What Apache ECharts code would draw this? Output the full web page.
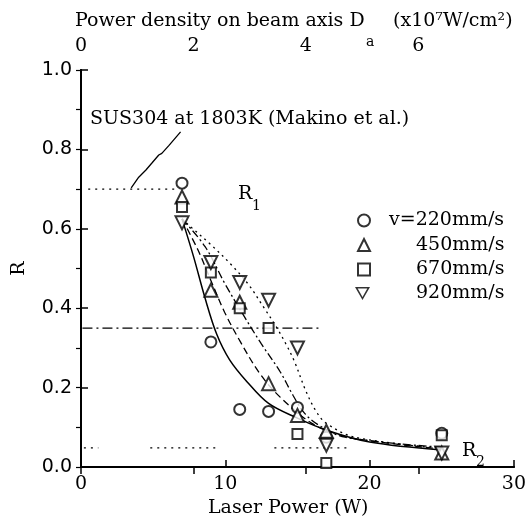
<!DOCTYPE html>
<html>
<head>
<meta charset="utf-8">
<script src="https://cdn.jsdelivr.net/npm/echarts@6/dist/echarts.min.js"></script>
<style>
html, body { margin: 0; padding: 0; background: #fff; }
#chart { width: 529px; height: 525px; }
</style>
</head>
<body>
<div id="chart"></div>
<script>
// laser power (W) of the measured points
const power = [7, 9, 11, 13, 15, 17, 25]
// measured R for each scan speed
const r220 = [0.715, 0.315, 0.145, 0.14, 0.15, 0.075, 0.085]
const r450 = [0.68, 0.445, 0.415, 0.21, 0.13, 0.09, 0.035]
const r670 = [0.655, 0.49, 0.40, 0.35, 0.083, 0.01, 0.08]
const r920 = [0.615, 0.515, 0.465, 0.42, 0.30, 0.055, 0.035]
const speedNames = ['v=220mm/s', '450mm/s', '670mm/s', '920mm/s']

// fitted curves, [W, R]
const fit220 = [[7, 0.625], [7.8, 0.53], [8.6, 0.425], [9.4, 0.335], [10.3, 0.27], [11.5, 0.215], [13, 0.16], [15, 0.123], [17, 0.093], [20, 0.063], [25, 0.043]]
const fit450 = [[7, 0.625], [8.1, 0.547], [9.0, 0.47], [9.95, 0.39], [11.05, 0.315], [12.4, 0.235], [13.8, 0.176], [16, 0.11], [18, 0.08], [20, 0.066], [25, 0.045]]
const fit670 = [[7, 0.625], [8.6, 0.555], [10, 0.46], [11.3, 0.38], [12.5, 0.31], [13.8, 0.24], [14.7, 0.18], [15.5, 0.135], [16.5, 0.105], [18.3, 0.075], [25, 0.05]]
const fit920 = [[7, 0.625], [7.6, 0.605], [9, 0.56], [10.4, 0.51], [11.6, 0.46], [12.7, 0.40], [13.5, 0.355], [14.2, 0.31], [14.8, 0.265], [15.6, 0.19], [16.3, 0.14], [17, 0.11], [19, 0.075], [25, 0.047]]

// reference levels
const refHigh = [[0.5, 0.70], [6.5, 0.70]]
const refMid = [[0.1, 0.35], [16.5, 0.35]]
const refLow1 = [[0.2, 0.048], [1.2, 0.048]]
const refLow2 = [[4.8, 0.048], [9.6, 0.048]]
const refLow3 = [[13.4, 0.048], [18.5, 0.048]]
// leader from the SUS304 note down to the 0.70 level
const leader = [[6.9, 0.844], [6.1, 0.81], [5.6, 0.79], [5.39, 0.786], [4.9, 0.765], [4.5, 0.748], [4.0, 0.73], [3.48, 0.703]]

const serif = '"DejaVu Serif", serif'
// hollow down-pointing triangle for the legend (legend ignores symbolRotate)
const downTri = 'path://M0,0L20,0L10,17.3ZM3.6,2.1L10,13.2L16.4,2.1Z'
const chart = echarts.init(document.getElementById('chart'))

const pts = (ys) => power.map((p, i) => [p, ys[i]])

const scatter = (name, ys, symbol, size, rotate) => ({
  name: name,
  type: 'scatter',
  data: pts(ys),
  symbol: symbol,
  symbolSize: size,
  symbolRotate: rotate || 0,
  itemStyle: { color: '#000', borderColor: '#000', borderWidth: 1.3 },
  z: 5
})

const line = (data, type, width) => ({
  type: 'line',
  data: data,
  showSymbol: false,
  smooth: 0.35,
  silent: true,
  lineStyle: { color: '#000', width: width || 1.3, type: type }
})

const flat = (data, type) => ({
  type: 'line',
  data: data,
  showSymbol: false,
  silent: true,
  lineStyle: { color: '#000', width: 1.3, type: type }
})

const legendText = {
  color: '#000',
  fontFamily: serif,
  fontSize: 19,
  rich: {
    s: { width: 14 },
    t: { width: 41 },
    u: { width: 41 },
    b: { fontFamily: serif, fontSize: 19, color: '#000' }
  }
}

const option = {
  backgroundColor: '#fff',
  animation: false,
  textStyle: { fontFamily: serif, color: '#000' },
  grid: { left: 81, right: 8, top: 70, bottom: 58 },
  xAxis: [
    {
      type: 'value',
      position: 'bottom',
      min: 0,
      max: 30,
      interval: 10,
      axisLine: { lineStyle: { color: '#000', width: 2 } },
      axisTick: { inside: true, length: 7, lineStyle: { color: '#000', width: 1.5 } },
      axisLabel: { color: '#000', fontFamily: serif, fontSize: 19, margin: 8 },
      splitLine: { show: false }
    },
    {
      type: 'value',
      position: 'top',
      min: 0,
      max: 7.7,
      interval: 2,
      axisLine: { lineStyle: { color: '#000', width: 2 } },
      axisTick: { inside: true, length: 7, lineStyle: { color: '#000', width: 1.5 } },
      axisLabel: { color: '#000', fontFamily: serif, fontSize: 19, margin: 14, showMaxLabel: false },
      splitLine: { show: false }
    }
  ],
  yAxis: [
    {
      type: 'value',
      position: 'left',
      min: 0,
      max: 1,
      interval: 0.2,
      name: 'R',
      nameLocation: 'middle',
      nameGap: 52,
      nameTextStyle: { color: '#000', fontFamily: serif, fontSize: 19 },
      axisLine: { lineStyle: { color: '#000', width: 2 } },
      axisTick: { inside: true, length: 7, lineStyle: { color: '#000', width: 1.5 } },
      axisLabel: { color: '#000', fontFamily: '"DejaVu Sans", sans-serif', fontSize: 19, margin: 9, formatter: (v) => v.toFixed(1) },
      splitLine: { show: false }
    },
    {
      type: 'value',
      position: 'right',
      min: 0,
      max: 1,
      interval: 0.1,
      axisLine: { show: true, lineStyle: { color: '#000', width: 2 } },
      axisTick: { inside: true, length: 5, lineStyle: { color: '#000', width: 1.2 } },
      axisLabel: { show: false },
      splitLine: { show: false }
    }
  ],
  legend: [
    {
      data: speedNames.slice(0, 3),
      orient: 'vertical',
      left: 352,
      top: 206,
      itemWidth: 12,
      itemHeight: 12,
      itemGap: 5.5,
      selectedMode: false,
      formatter: (name) => name.indexOf('v=') === 0
        ? '{s|}{b|' + name + '}'
        : '{t|}{b|' + name + '}',
      textStyle: legendText
    },
    {
      data: [{ name: speedNames[3], icon: downTri, itemStyle: { color: '#000', borderWidth: 0 } }],
      left: 350,
      top: 279,
      itemWidth: 15,
      itemHeight: 13,
      selectedMode: false,
      formatter: (name) => '{u|}{b|' + name + '}',
      textStyle: legendText
    }
  ],
  graphic: [
    { type: 'text', left: 75, top: 12, style: { text: 'Power density on beam axis D', font: '19px "DejaVu Serif"', fill: '#000' } },
    { type: 'text', left: 366, top: 35, style: { text: 'a', font: '14px "DejaVu Serif"', fill: '#000' } },
    { type: 'text', left: 393, top: 12, style: { text: '(x10\u2077W/cm\u00b2)', font: '19px "DejaVu Serif"', fill: '#000' } },
    { type: 'text', left: 208, top: 499, style: { text: 'Laser Power (W)', font: '19px "DejaVu Serif"', fill: '#000' } },
    { type: 'text', left: 90, top: 110, style: { text: 'SUS304 at 1803K (Makino et al.)', font: '19px "DejaVu Serif"', fill: '#000' } },
    { type: 'text', left: 238, top: 185, style: { text: 'R', font: '19px "DejaVu Serif"', fill: '#000' } },
    { type: 'text', left: 252, top: 199, style: { text: '1', font: '14px "DejaVu Serif"', fill: '#000' } },
    { type: 'text', left: 462, top: 442, style: { text: 'R', font: '19px "DejaVu Serif"', fill: '#000' } },
    { type: 'text', left: 476, top: 455, style: { text: '2', font: '14px "DejaVu Serif"', fill: '#000' } }
  ],
  series: [
    flat(refHigh, [2, 5]),
    flat(refMid, [10, 4, 2, 4]),
    flat(refLow1, [2, 5]),
    flat(refLow2, [2, 5]),
    flat(refLow3, [2, 5]),
    flat(leader, 'solid'),
    line(fit220, 'solid', 1.5),
    line(fit450, [7, 4]),
    line(fit670, [8, 3, 2, 3]),
    line(fit920, [2, 4]),
    scatter(speedNames[0], r220, 'emptyCircle', 11),
    scatter(speedNames[1], r450, 'emptyTriangle', 13),
    scatter(speedNames[2], r670, 'emptyRect', 10),
    scatter(speedNames[3], r920, 'emptyTriangle', 13, 180)
  ]
}

chart.setOption(option)
</script>
</body>
</html>
